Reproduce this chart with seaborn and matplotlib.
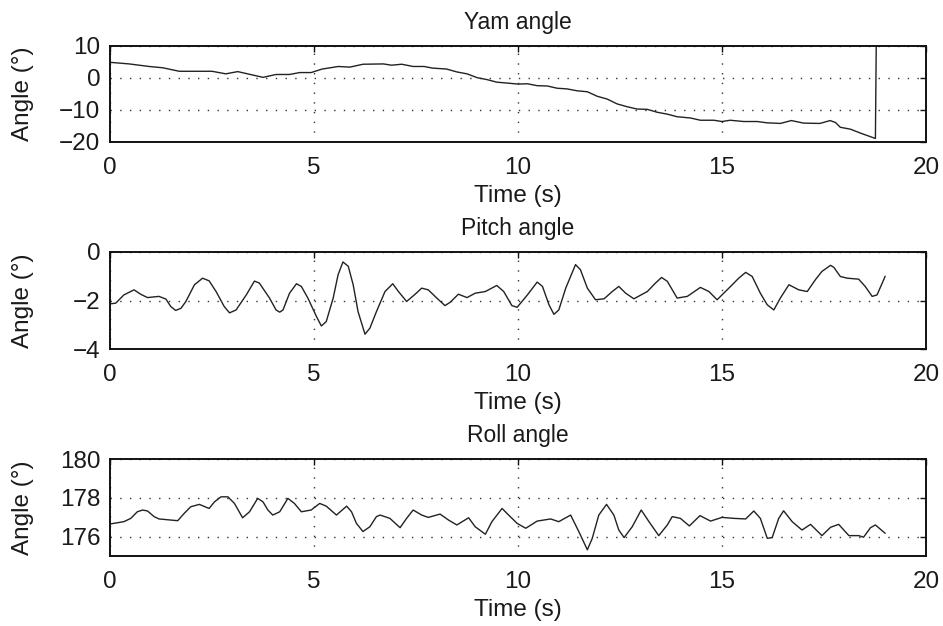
import matplotlib
matplotlib.use("Agg")
import matplotlib.pyplot as plt
import seaborn as sns
import pandas as pd

# ---- data ----
yaw_t = [0.0, 0.47, 0.96, 1.29, 1.7, 2.5, 2.84, 3.13, 3.75, 4.07, 4.4, 4.65, 4.93,
         5.2, 5.6, 5.88, 6.2, 6.7, 6.9, 7.15, 7.43, 7.7, 7.9, 8.25, 8.5, 8.75,
         9.0, 9.24, 9.48, 9.75, 10.0, 10.23, 10.47, 10.72, 10.96, 11.2, 11.45,
         11.7, 11.94, 12.19, 12.43, 12.68, 12.92, 13.17, 13.41, 13.66, 13.9,
         14.23, 14.47, 14.8, 15.0, 15.2, 15.53, 15.86, 16.1, 16.43, 16.7, 17.0,
         17.4, 17.65, 17.78, 17.9, 18.15, 18.39, 18.76, 18.78]
yaw_v = [4.9, 4.4, 3.6, 3.2, 2.1, 2.1, 1.3, 2.0, 0.2, 1.1, 1.1, 1.7, 1.7,
         2.8, 3.6, 3.4, 4.3, 4.4, 4.0, 4.3, 3.6, 3.6, 3.1, 2.8, 1.9, 1.3,
         0.1, -0.5, -1.3, -1.6, -1.9, -1.8, -2.4, -2.5, -3.2, -3.4, -4.0,
         -4.3, -5.7, -6.6, -8.1, -9.0, -9.7, -9.8, -10.7, -11.3, -12.1,
         -12.5, -13.2, -13.2, -13.6, -13.2, -13.6, -13.6, -14.0, -14.2, -13.3, -14.1,
         -14.2, -13.3, -13.9, -15.4, -16.0, -17.2, -18.9, 10.0]

pitch_t = [0.00, 0.14, 0.34, 0.59, 0.75, 0.92, 1.20, 1.37, 1.49, 1.61, 1.74, 1.86,
           2.07, 2.27, 2.43, 2.60, 2.80, 2.93, 3.09, 3.34, 3.54, 3.66, 3.91, 4.07,
           4.16, 4.24, 4.40, 4.57, 4.69, 4.85, 5.06, 5.18, 5.30, 5.47, 5.59, 5.71,
           5.84, 5.96, 6.08, 6.25, 6.37, 6.53, 6.74, 6.93, 7.07, 7.27, 7.48, 7.64,
           7.80, 8.01, 8.21, 8.34, 8.54, 8.75, 8.95, 9.20, 9.48, 9.65, 9.85, 9.98,
           10.23, 10.47, 10.60, 10.76, 10.88, 11.00, 11.17, 11.41, 11.53, 11.70,
           11.90, 12.11, 12.31, 12.47, 12.64, 12.84, 13.17, 13.37, 13.52, 13.66,
           13.90, 14.15, 14.47, 14.68, 14.88, 15.21, 15.41, 15.58, 15.74, 15.94,
           16.11, 16.27, 16.43, 16.64, 16.88, 17.09, 17.29, 17.45, 17.66, 17.74,
           17.90, 18.07, 18.35, 18.51, 18.68, 18.80, 19.00]
pitch_v = [-2.14, -2.11, -1.77, -1.56, -1.74, -1.88, -1.83, -1.94, -2.25, -2.41, -2.32, -2.04,
           -1.35, -1.08, -1.19, -1.63, -2.25, -2.51, -2.39, -1.77, -1.20, -1.28, -1.90, -2.39,
           -2.48, -2.39, -1.70, -1.31, -1.42, -1.90, -2.66, -3.05, -2.87, -1.90, -0.94, -0.41,
           -0.59, -1.35, -2.46, -3.39, -3.14, -2.46, -1.63, -1.31, -1.63, -2.04, -1.74, -1.49,
           -1.56, -1.90, -2.21, -2.07, -1.74, -1.88, -1.70, -1.63, -1.38, -1.63, -2.21, -2.28,
           -1.77, -1.24, -1.42, -2.18, -2.57, -2.39, -1.49, -0.52, -0.73, -1.49,
           -1.97, -1.93, -1.63, -1.42, -1.70, -1.93, -1.63, -1.28, -1.05, -1.21,
           -1.90, -1.83, -1.46, -1.63, -1.97, -1.42, -1.08, -0.84, -1.01, -1.70,
           -2.18, -2.39, -1.90, -1.35, -1.56, -1.63, -1.14, -0.80, -0.55, -0.63,
           -1.01, -1.08, -1.12, -1.42, -1.83, -1.77, -1.00]

roll_t = [0.00, 0.34, 0.51, 0.67, 0.80, 0.92, 1.08, 1.20, 1.66, 1.82, 1.98, 2.19, 2.43,
          2.56, 2.72, 2.89, 3.05, 3.25, 3.42, 3.62, 3.75, 3.87, 3.99, 4.16, 4.36, 4.52,
          4.69, 4.93, 5.14, 5.30, 5.55, 5.80, 5.92, 6.04, 6.20, 6.37, 6.53, 6.62, 6.86,
          7.11, 7.27, 7.43, 7.64, 7.80, 8.09, 8.30, 8.50, 8.79, 8.95, 9.20, 9.36, 9.61,
          9.77, 9.98, 10.19, 10.47, 10.80, 11.00, 11.29, 11.49, 11.70, 11.82, 11.98,
          12.17, 12.35, 12.47, 12.60, 12.80, 13.02, 13.21, 13.45, 13.66, 13.78, 13.98,
          14.20, 14.46, 14.72, 15.00, 15.29, 15.58, 15.78, 15.94, 16.11, 16.23, 16.39,
          16.51, 16.72, 16.96, 17.17, 17.45, 17.66, 17.86, 18.11, 18.35, 18.47, 18.64,
          18.76, 19.00]
roll_v = [176.65, 176.77, 176.94, 177.28, 177.37, 177.32, 177.03, 176.91, 176.82, 177.20, 177.54, 177.66, 177.45,
          177.79, 178.05, 178.05, 177.71, 176.97, 177.28, 177.97, 177.79, 177.37, 177.11, 177.28, 177.97, 177.71,
          177.28, 177.37, 177.71, 177.57, 177.11, 177.57, 177.28, 176.68, 176.26, 176.51, 177.03, 177.11, 176.94,
          176.46, 176.94, 177.37, 177.11, 176.99, 177.16, 176.85, 176.60, 176.97, 176.51, 176.12, 176.77, 177.45,
          177.11, 176.68, 176.43, 176.80, 176.91, 176.77, 177.11, 176.26, 175.32, 175.91, 177.11,
          177.66, 177.11, 176.34, 175.95, 176.51, 177.37, 176.77, 176.05, 176.60, 177.03, 176.94,
          176.55, 177.08, 176.80, 176.99, 176.94, 176.91, 177.32, 176.94, 175.91, 175.95, 176.94,
          177.33, 176.77, 176.34, 176.63, 176.05, 176.48, 176.63, 176.05, 176.05, 175.97, 176.46,
          176.60, 176.17]

titles = ["Yam angle", "Pitch angle", "Roll angle"]
xlabel = "Time (s)"
ylabel = "Angle (°)"
x_ticks = [0, 5, 10, 15, 20]
yaw_ticks = [-20, -10, 0, 10]
pitch_ticks = [-4, -2, 0]
roll_ticks = [176, 178, 180]

# ---- style ----
sns.set_style("white")
plt.rcParams['font.family'] = ['Liberation Sans', 'DejaVu Sans']
plt.rcParams['axes.unicode_minus'] = True

fig = plt.figure(figsize=(9.43, 6.26), dpi=100)
W, H = 943, 626
ax_left, ax_right = 110, 926
tops = [46, 252, 459]
bottoms = [142, 349, 556]

series = [(yaw_t, yaw_v, (-20, 10), yaw_ticks),
          (pitch_t, pitch_v, (-4, 0), pitch_ticks),
          (roll_t, roll_v, (175, 180), roll_ticks)]

txt_color = "#1a1a1a"
for i, (t, v, ylim, yt) in enumerate(series):
    ax = fig.add_axes([ax_left / W, 1 - bottoms[i] / H,
                       (ax_right - ax_left) / W, (bottoms[i] - tops[i]) / H])
    df = pd.DataFrame({"t": t, "v": v})
    sns.lineplot(data=df, x="t", y="v", ax=ax, color="#222222", linewidth=1.0,
                 sort=False, estimator=None)
    ax.set_xlim(0, 20)
    ax.set_ylim(*ylim)
    ax.set_xticks(x_ticks)
    ax.set_yticks(yt)
    ax.grid(True, color="#333333", linestyle=(0, (1, 6)), linewidth=1.0)
    for s in ax.spines.values():
        s.set_visible(True)
        s.set_linewidth(1.4)
        s.set_color("#111111")
    ax.tick_params(direction="in", length=4, width=1.0, top=True, right=True,
                   labelsize=17.5, colors="#111111", labelcolor=txt_color)
    ax.tick_params(axis="x", pad=11)
    ax.tick_params(axis="y", pad=7)
    ax.set_xlabel(xlabel, fontsize=17.5, color=txt_color, labelpad=4)
    ax.set_ylabel(ylabel, fontsize=17.5, color=txt_color)
    ax.yaxis.set_label_coords((34 - ax_left) / (ax_right - ax_left), 0.5)
    ax.set_title(titles[i], fontsize=16.5, color=txt_color, pad=12)

fig.savefig("out.png", dpi=100)
